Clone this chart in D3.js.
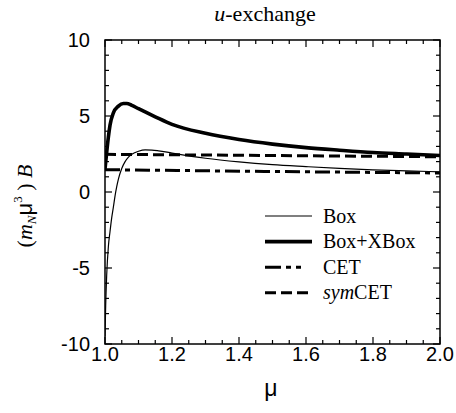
<!DOCTYPE html>
<html>
<head>
<meta charset="utf-8">
<script src="https://cdn.jsdelivr.net/npm/d3@7"></script>
<style>
  body { margin: 0; background: #fff; }
  svg { display: block; }
</style>
</head>
<body>
<div id="chart"></div>
<script>
// u-exchange: (m_N mu^3) B versus mu

// Box (thin line)
const boxMu = [1.0, 1.002, 1.005, 1.01, 1.015, 1.02, 1.025, 1.03, 1.035, 1.04, 1.05, 1.06, 1.07, 1.08, 1.1, 1.12, 1.14, 1.16, 1.2, 1.3, 1.4, 1.5, 1.6, 1.7, 1.8, 1.9, 2.0];
const boxVal = [-9.5, -7.5, -5.5, -3.6, -2.6, -1.7, -1.0, -0.25, 0.35, 0.85, 1.55, 2.0, 2.3, 2.48, 2.68, 2.77, 2.76, 2.71, 2.56, 2.22, 1.98, 1.8, 1.67, 1.55, 1.46, 1.39, 1.33];

// Box+XBox (thick line)
const bxMu = [1.0, 1.005, 1.01, 1.015, 1.025, 1.04, 1.055, 1.065, 1.08, 1.1, 1.15, 1.2, 1.3, 1.4, 1.5, 1.6, 1.7, 1.8, 1.9, 2.0];
const bxVal = [1.5, 2.6, 3.6, 4.4, 5.2, 5.65, 5.82, 5.82, 5.7, 5.48, 4.95, 4.45, 3.86, 3.45, 3.15, 2.92, 2.75, 2.6, 2.5, 2.4];

// CET (dash-dot) and symCET (dashed)
const cetMu = [1.0, 1.5, 2.0];
const cetVal = [1.47, 1.35, 1.25];
const symMu = [1.0, 1.5, 2.0];
const symVal = [2.48, 2.4, 2.32];

const xTicks = [1.0, 1.2, 1.4, 1.6, 1.8, 2.0];
const yTicks = [-10, -5, 0, 5, 10];

const width = 456, height = 413;
const margin = { left: 105, right: 16, top: 40, bottom: 69 };

const svg = d3.select('#chart')
  .append('svg')
  .attr('width', width)
  .attr('height', height);

const x = d3.scaleLinear().domain([1.0, 2.0]).range([margin.left, width - margin.right]);
const y = d3.scaleLinear().domain([-10, 10]).range([height - margin.bottom, margin.top]);

const plotW = x.range()[1] - x.range()[0];
const plotH = y.range()[0] - y.range()[1];

// clip so the curves stay inside the frame
svg.append('clipPath').attr('id', 'clip')
  .append('rect')
  .attr('x', margin.left).attr('y', margin.top)
  .attr('width', plotW).attr('height', plotH);

// ticks (inward, all four sides)
const minorX = d3.range(1.0, 2.0001, 0.05);
const minorY = d3.range(-10, 10.001, 1);
const isMajorX = v => Math.abs(v * 5 - Math.round(v * 5)) < 1e-6;
const isMajorY = v => v % 5 === 0;

const ticks = svg.append('g').attr('stroke', '#000').attr('stroke-width', 1.2);
minorX.forEach(v => {
  const len = isMajorX(v) ? 7 : 4;
  ticks.append('line').attr('x1', x(v)).attr('x2', x(v))
    .attr('y1', y(-10)).attr('y2', y(-10) - len);
  ticks.append('line').attr('x1', x(v)).attr('x2', x(v))
    .attr('y1', y(10)).attr('y2', y(10) + len);
});
minorY.forEach(v => {
  const len = isMajorY(v) ? 7 : 4;
  ticks.append('line').attr('x1', x(1.0)).attr('x2', x(1.0) + len)
    .attr('y1', y(v)).attr('y2', y(v));
  ticks.append('line').attr('x1', x(2.0)).attr('x2', x(2.0) - len)
    .attr('y1', y(v)).attr('y2', y(v));
});

// frame
svg.append('rect')
  .attr('x', margin.left).attr('y', margin.top)
  .attr('width', plotW).attr('height', plotH)
  .attr('fill', 'none').attr('stroke', '#000').attr('stroke-width', 1.5);

// tick labels
svg.append('g')
  .selectAll('text')
  .data(xTicks)
  .join('text')
  .attr('x', d => x(d))
  .attr('y', y(-10) + 17)
  .attr('text-anchor', 'middle')
  .attr('font-family', 'Liberation Sans, Arial, sans-serif')
  .attr('font-size', 20)
  .text(d => d.toFixed(1));

svg.append('g')
  .selectAll('text')
  .data(yTicks)
  .join('text')
  .attr('x', margin.left - 15)
  .attr('y', d => y(d) + 7)
  .attr('text-anchor', 'end')
  .attr('font-family', 'Liberation Sans, Arial, sans-serif')
  .attr('font-size', 20)
  .text(d => String(d));

// curves
const line = d3.line()
  .x(d => x(d[0]))
  .y(d => y(d[1]))
  .curve(d3.curveMonotoneX);

const zip = (a, b) => a.map((v, i) => [v, b[i]]);

const series = [
  { name: 'Box', pts: zip(boxMu, boxVal), w: 1.2, dash: null },
  { name: 'Box+XBox', pts: zip(bxMu, bxVal), w: 3.6, dash: null },
  { name: 'CET', pts: zip(cetMu, cetVal), w: 3, dash: '15,5,5,5' },
  { name: 'symCET', pts: zip(symMu, symVal), w: 3, dash: '11,5' }
];

svg.append('g')
  .attr('clip-path', 'url(#clip)')
  .selectAll('path')
  .data(series)
  .join('path')
  .attr('d', d => line(d.pts))
  .attr('fill', 'none')
  .attr('stroke', '#000')
  .attr('stroke-width', d => d.w)
  .attr('stroke-dasharray', d => d.dash);

// legend
const legend = svg.append('g').attr('transform', 'translate(265,216)');
series.forEach((s, i) => {
  const g = legend.append('g').attr('transform', `translate(0,${i * 25.6})`);
  g.append('line')
    .attr('x1', 0).attr('x2', 47)
    .attr('y1', 0).attr('y2', 0)
    .attr('stroke', '#000')
    .attr('stroke-width', s.w)
    .attr('stroke-dasharray', s.name === 'CET' ? '16,5,5,5,5,20' : s.dash);
  const t = g.append('text')
    .attr('x', 58).attr('y', 6.5)
    .attr('font-family', 'Liberation Serif, Times New Roman, serif')
    .attr('font-size', 20);
  if (s.name === 'symCET') {
    t.append('tspan').attr('font-style', 'italic').text('sym');
    t.append('tspan').text('CET');
  } else {
    t.text(s.name);
  }
});

// title
const title = svg.append('text')
  .attr('x', 265).attr('y', 21)
  .attr('text-anchor', 'middle')
  .attr('font-family', 'Liberation Serif, Times New Roman, serif')
  .attr('font-size', 22);
title.append('tspan').attr('font-style', 'italic').text('u');
title.append('tspan').text('-exchange');

// x axis label
svg.append('text')
  .attr('x', 271).attr('y', 396)
  .attr('text-anchor', 'middle')
  .attr('font-family', 'Liberation Sans, Arial, sans-serif')
  .attr('font-size', 23)
  .text('μ');

// y axis label: (m_N μ^3) B
const yl = svg.append('text')
  .attr('transform', 'translate(32,206) rotate(-90)')
  .attr('text-anchor', 'middle')
  .attr('font-family', 'Liberation Serif, Times New Roman, serif')
  .attr('font-size', 22);
yl.append('tspan').text('(');
yl.append('tspan').attr('font-style', 'italic').text('m');
yl.append('tspan').attr('font-style', 'italic').attr('font-size', 13).attr('dy', 4).text('N');
yl.append('tspan').attr('font-family', 'Liberation Sans, Arial, sans-serif').attr('dy', -4).text('μ');
yl.append('tspan').attr('font-size', 13).attr('dy', -10).text('3');
yl.append('tspan').attr('dy', 10).text(' ) ');
yl.append('tspan').attr('font-style', 'italic').text('B');
</script>
</body>
</html>
